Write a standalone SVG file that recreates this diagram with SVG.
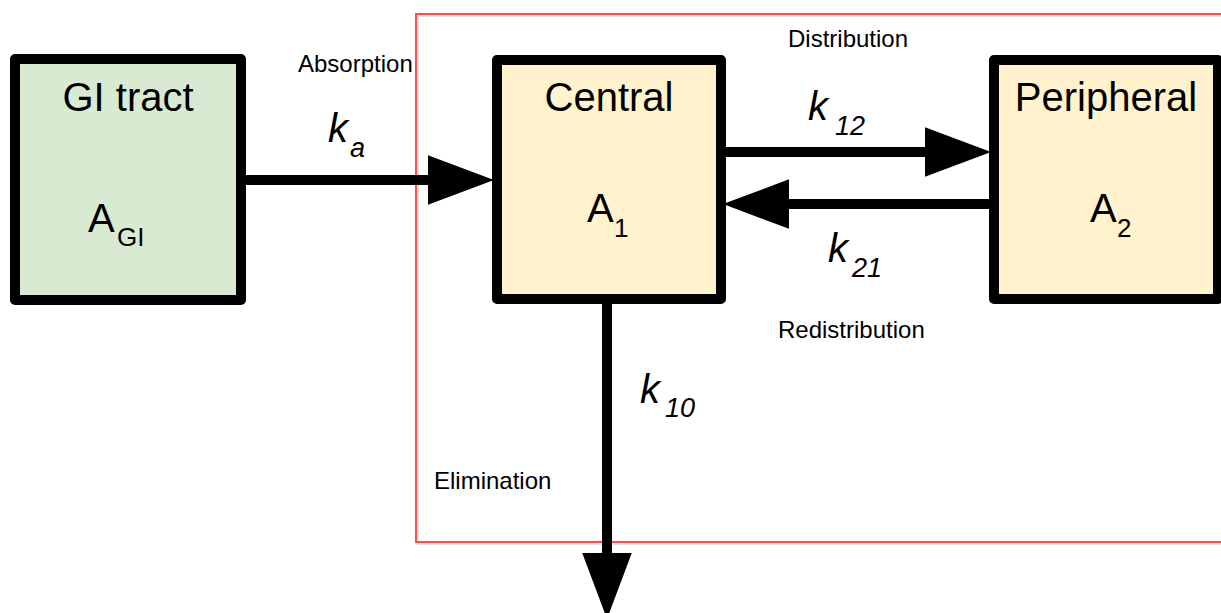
<svg xmlns="http://www.w3.org/2000/svg" width="1221" height="613" viewBox="0 0 1221 613">
  <style>
    .box { stroke: #000; stroke-width: 10; stroke-linejoin: round; }
    .gi { fill: #d9ead3; }
    .cmp { fill: #fff2cc; }
    .title { font-family: "Liberation Sans", Arial, sans-serif; font-size: 40px; fill: #000; text-anchor: middle; }
    .amt { font-family: "Liberation Sans", Arial, sans-serif; font-size: 40px; fill: #000; }
    .sub { font-size: 26px; }
    .note { font-family: "Liberation Sans", Arial, sans-serif; font-size: 24px; fill: #000; }
    .rate { font-family: "Liberation Sans", Arial, sans-serif; font-style: italic; font-size: 40px; fill: #000; }
    .rsub { font-size: 27px; }
    .flow { stroke: #000; stroke-width: 10; fill: none; marker-end: url(#head); }
  </style>
  <defs>
    <marker id="head" markerUnits="userSpaceOnUse" markerWidth="66" markerHeight="50" viewBox="0 0 64 48" refX="0" refY="24" orient="auto">
      <path d="M0,0 L64,24 L0,48 Z" fill="#000"/>
    </marker>
  </defs>

  <rect width="1221" height="613" fill="#fff"/>

  <!-- systemic boundary (central + peripheral) -->
  <g id="system-frame">
    <rect x="418" y="16" width="820" height="528" fill="none" stroke="#000" stroke-opacity="0.12" stroke-width="2"/>
    <rect x="416" y="14" width="820" height="528" fill="none" stroke="#ff4d4d" stroke-width="2"/>
  </g>

  <!-- flows between compartments -->
  <g id="connectors">
    <line class="flow" x1="245" y1="180" x2="428" y2="180"/>
    <line class="flow" x1="726" y1="152" x2="925" y2="152"/>
    <line class="flow" x1="989" y1="204" x2="789" y2="204"/>
    <line class="flow" x1="607" y1="304" x2="607" y2="553"/>
  </g>

  <g id="gi-tract">
    <rect class="box gi" x="15" y="59" width="226" height="241"/>
    <text class="title" x="128" y="111">GI tract</text>
    <text class="amt" x="88" y="232">A<tspan class="sub" x="117" y="246">GI</tspan></text>
  </g>

  <g id="central">
    <rect class="box cmp" x="497" y="60" width="224" height="239"/>
    <text class="title" x="609" y="111">Central</text>
    <text class="amt" x="587" y="222">A<tspan class="sub" x="614" y="237">1</tspan></text>
  </g>

  <g id="peripheral">
    <rect class="box cmp" x="994" y="60" width="224" height="239"/>
    <text class="title" x="1106" y="111">Peripheral</text>
    <text class="amt" x="1090" y="222">A<tspan class="sub" x="1117" y="237">2</tspan></text>
  </g>

  <g id="labels">
    <text class="note" x="298" y="72">Absorption</text>
    <text class="note" x="788" y="47">Distribution</text>
    <text class="note" x="778" y="338">Redistribution</text>
    <text class="note" x="434" y="489">Elimination</text>
    <text class="rate" x="328" y="142">k<tspan class="rsub" x="350" y="157">a</tspan></text>
    <text class="rate" x="808" y="120">k<tspan class="rsub" x="835" y="135">12</tspan></text>
    <text class="rate" x="828" y="262">k<tspan class="rsub" x="852" y="277">21</tspan></text>
    <text class="rate" x="640" y="403">k<tspan class="rsub" x="665" y="417">10</tspan></text>
  </g>
</svg>
